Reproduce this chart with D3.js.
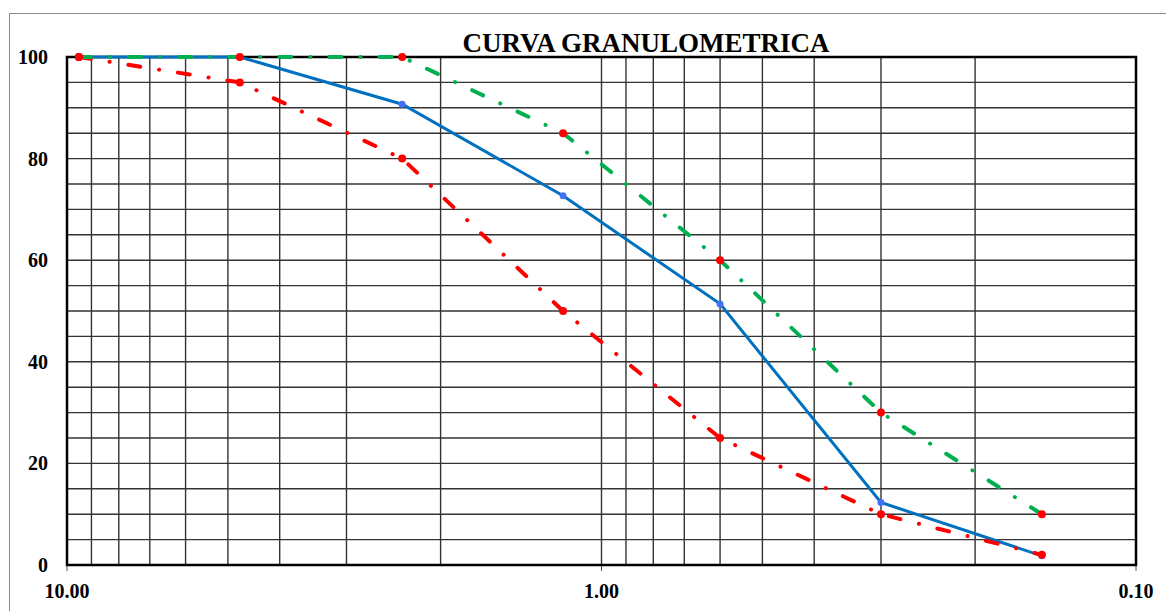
<!DOCTYPE html>
<html><head><meta charset="utf-8">
<script src="https://cdn.jsdelivr.net/npm/d3@7"></script>
<style>html,body{margin:0;padding:0;background:#fff;}svg{display:block;}</style>
</head><body>
<svg id="c" width="1166" height="611"></svg>
<script>
const sieves = [9.5, 4.75, 2.36, 1.18, 0.6, 0.3, 0.15];
const muestra = [100, 100, 90.7, 72.7, 51.4, 12.3, 1.8];
const limInf = [100, 95, 80, 50, 25, 10, 2];
const limSup = [100, 100, 100, 85, 60, 30, 10];
const yTicks = [0, 20, 40, 60, 80, 100];
const xTicks = [10, 1, 0.1];
const xMinor = [9,8,7,6,5,4,3,2,0.9,0.8,0.7,0.6,0.5,0.4,0.3,0.2];
const yMinor = d3.range(5, 100, 5);

const svg = d3.select("#c");
const L = 67, R = 1136, T = 57, B = 565;
const x = d3.scaleLog().domain([10, 0.1]).range([L, R]);
const y = d3.scaleLinear().domain([0, 100]).range([B, T]);

svg.append("path").attr("d", `M9.5,611 V13.5 H1166`).attr("fill","none").attr("stroke","#8a8a8a").attr("stroke-width",1);

svg.append("g").selectAll("line").data(yMinor).join("line")
  .attr("x1", L).attr("x2", R).attr("y1", d => y(d)).attr("y2", d => y(d))
  .attr("stroke", "#333").attr("stroke-width", 1.4);
svg.append("g").selectAll("line").data(xMinor.concat([1])).join("line")
  .attr("x1", d => x(d)).attr("x2", d => x(d)).attr("y1", T).attr("y2", B)
  .attr("stroke", "#333").attr("stroke-width", 1.4);

const fnt = "'Liberation Serif','Times New Roman',serif";
svg.append("g").selectAll("text").data(yTicks).join("text")
  .attr("x", 48).attr("y", d => y(d)).attr("dy", "0.35em")
  .attr("text-anchor", "end").attr("font-family", fnt).attr("font-weight", "bold").attr("font-size", 20)
  .text(d => d);
svg.append("g").selectAll("line").data(xTicks).join("line")
  .attr("x1", d => x(d)).attr("x2", d => x(d)).attr("y1", B).attr("y2", B + 6)
  .attr("stroke", "#555").attr("stroke-width", 1);
svg.append("g").selectAll("text").data(xTicks).join("text")
  .attr("x", d => x(d)).attr("y", 598)
  .attr("text-anchor", "middle").attr("font-family", fnt).attr("font-weight", "bold").attr("font-size", 20)
  .text(d => d3.format(".2f")(d));

svg.append("rect").attr("x", L).attr("y", T).attr("width", R - L).attr("height", B - T)
  .attr("fill", "none").attr("stroke", "#000").attr("stroke-width", 2.5);

svg.append("text").attr("x", 646).attr("y", 52).attr("text-anchor", "middle")
  .attr("font-family", fnt).attr("font-weight", "bold").attr("font-size", 27)
  .text("CURVA GRANULOMETRICA");

const line = vals => d3.line().x((d, i) => x(sieves[i])).y(d => y(d))(vals);

svg.append("path").attr("d", line(muestra)).attr("fill", "none")
  .attr("stroke", "#0070C0").attr("stroke-width", 3);
svg.append("g").selectAll("circle").data(muestra).join("circle")
  .attr("cx", (d, i) => x(sieves[i])).attr("cy", d => y(d)).attr("r", 3.5).attr("fill", "#4472F4");

svg.append("path").attr("d", line(limInf)).attr("fill", "none")
  .attr("stroke", "#FF0000").attr("stroke-width", 4).attr("stroke-linecap", "round")
  .attr("stroke-dasharray", "12 19 0.1 19");
svg.append("path").attr("d", line(limSup)).attr("fill", "none")
  .attr("stroke", "#00B050").attr("stroke-width", 4).attr("stroke-linecap", "round")
  .attr("stroke-dasharray", "12 19 0.1 19");

[limInf, limSup].forEach(arr => {
  svg.append("g").selectAll("circle").data(arr).join("circle")
    .attr("cx", (d, i) => x(sieves[i])).attr("cy", d => y(d)).attr("r", 4).attr("fill", "#FF0000");
});
</script>
</body></html>
